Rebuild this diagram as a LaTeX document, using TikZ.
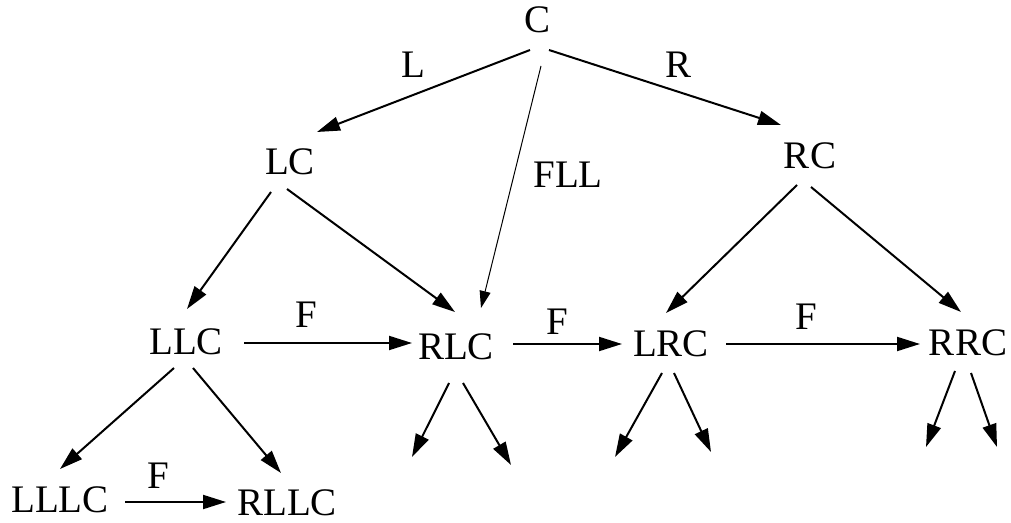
\documentclass[tikz,border=0pt]{standalone}
\usepackage{fontspec}
\setmainfont{Liberation Serif}
\usetikzlibrary{arrows.meta}
\begin{document}
\begin{tikzpicture}[x=0.5pt,y=-0.5pt,
  lab/.style={anchor=base,inner sep=0pt,font=\fontsize{19.5}{23}\selectfont},
  arr/.style={line width=1pt,-{Triangle[length=11.5pt,width=7pt]}},
  thinarr/.style={line width=0.5pt,-{Triangle[length=8.5pt,width=5.5pt]}}]
\useasboundingbox (0,0) rectangle (1011,523);
% nodes
\node[lab] (C) at (537,33) {C};
\node[lab] (lL) at (413,78) {L};
\node[lab] (lR) at (678,78) {R};
\node[lab] (LC) at (290,175) {LC};
\node[lab] (lFLL) at (568,188) {FLL};
\node[lab] (RC) at (810,169) {RC};
\node[lab] (LLC) at (186,355) {LLC};
\node[lab] (RLC) at (456,359) {RLC};
\node[lab] (LRC) at (671,357) {LRC};
\node[lab] (RRC) at (968,356) {RRC};
\node[lab] (LLLC) at (60,512) {LLLC};
\node[lab] (RLLC) at (287,515) {RLLC};
\node[lab] (F1) at (306,328) {F};
\node[lab] (F2) at (557,335) {F};
\node[lab] (F3) at (806,330) {F};
\node[lab] (F4) at (158,488) {F};
% free ends
\coordinate (d1l) at (412,457);
\coordinate (d1r) at (511,465);
\coordinate (d2l) at (615,457);
\coordinate (d2r) at (711,452);
\coordinate (d3l) at (926,447);
\coordinate (d3r) at (997,447);
% connectors
\draw[arr] ([shift={(-7,17)}]C.base) -- ([shift={(27,-43)}]LC.base);
\draw[arr] ([shift={(12,17)}]C.base) -- ([shift={(-29,-44)}]RC.base);
\draw[thinarr] ([shift={(4,33)}]C.base) -- ([shift={(25,-51)}]RLC.base);
\draw[arr] ([shift={(-19,17)}]LC.base) -- ([shift={(1,-46)}]LLC.base);
\draw[arr] ([shift={(-3,14)}]LC.base) -- ([shift={(-1,-47)}]RLC.base);
\draw[arr] ([shift={(-13,16)}]RC.base) -- ([shift={(-5,-44)}]LRC.base);
\draw[arr] ([shift={(1,18)}]RC.base) -- ([shift={(-7,-44)}]RRC.base);
\draw[arr] ([shift={(58,-12)}]LLC.base) -- ([shift={(-44,-16)}]RLC.base);
\draw[arr] ([shift={(57,-15)}]RLC.base) -- ([shift={(-49,-13)}]LRC.base);
\draw[arr] ([shift={(55,-13)}]LRC.base) -- ([shift={(-48,-12)}]RRC.base);
\draw[arr] ([shift={(-12,13)}]LLC.base) -- ([shift={(0,-43)}]LLLC.base);
\draw[arr] ([shift={(7,13)}]LLC.base) -- ([shift={(-6,-42)}]RLLC.base);
\draw[arr] ([shift={(65,-10)}]LLLC.base) -- ([shift={(-61,-13)}]RLLC.base);
\draw[arr] ([shift={(-7,24)}]RLC.base) -- (d1l);
\draw[arr] ([shift={(7,24)}]RLC.base) -- (d1r);
\draw[arr] ([shift={(-9,16)}]LRC.base) -- (d2l);
\draw[arr] ([shift={(3,16)}]LRC.base) -- (d2r);
\draw[arr] ([shift={(-13,15)}]RRC.base) -- (d3l);
\draw[arr] ([shift={(3,17)}]RRC.base) -- (d3r);
\end{tikzpicture}
\end{document}
